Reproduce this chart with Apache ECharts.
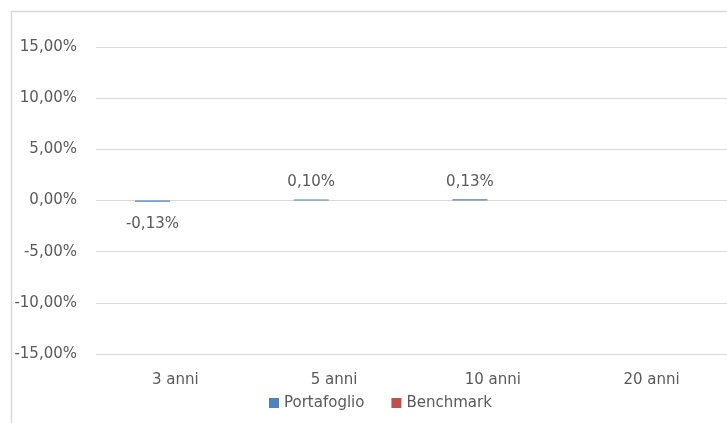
<!DOCTYPE html>
<html>
<head>
<meta charset="utf-8">
<script src="https://cdn.jsdelivr.net/npm/echarts@6/dist/echarts.min.js"></script>
<style>
html,body{margin:0;padding:0;background:#fff;}
#c{width:727px;height:423px;}
</style>
</head>
<body>
<div id="c"></div>
<script>
const categories = ['3 anni', '5 anni', '10 anni', '20 anni'];
const portafoglio = [-0.13, 0.10, 0.13, null];
const benchmark = [null, null, null, null];
const yMin = -15, yMax = 15, yStep = 5;

const fmt = v => v.toFixed(2).replace('.', ',') + '%';
const FONT = 'DejaVu Sans';
const TXT = '#595959';

function labelled(arr) {
  return arr.map(v => v === null ? null : {
    value: v,
    label: v < 0 ? { position: 'bottom', distance: 15 } : { position: 'top', distance: 10 }
  });
}

const chart = echarts.init(document.getElementById('c'), null, { renderer: 'canvas' });
chart.setOption({
  animation: false,
  backgroundColor: '#ffffff',
  graphic: [{
    type: 'rect', z: -10, silent: true,
    shape: { x: 11.5, y: 11.5, width: 800, height: 500 },
    style: { fill: 'none', stroke: '#d9d9d9', lineWidth: 1.5 }
  }],
  grid: { left: 96, top: 47, width: 635, height: 307, containLabel: false, outerBoundsMode: 'none' },
  legend: {
    left: 264, top: 390,
    icon: 'rect', itemWidth: 10, itemHeight: 10, itemGap: 27,
    textStyle: { fontFamily: FONT, fontSize: 15, color: TXT, lineHeight: 16 },
    data: ['Portafoglio', 'Benchmark']
  },
  xAxis: {
    type: 'category', data: categories,
    axisLine: { show: false }, axisTick: { show: false },
    axisLabel: { fontFamily: FONT, fontSize: 15, color: TXT, margin: 19 }
  },
  yAxis: {
    type: 'value', min: yMin, max: yMax, interval: yStep,
    axisLine: { show: false }, axisTick: { show: false },
    splitLine: { lineStyle: { color: '#d9d9d9', width: 1 } },
    axisLabel: { fontFamily: FONT, fontSize: 15, color: TXT, margin: 19, formatter: fmt }
  },
  series: [
    {
      name: 'Portafoglio', type: 'bar', data: labelled(portafoglio),
      barWidth: 35, barGap: '31%',
      itemStyle: { color: '#4F81BD' },
      label: { show: true, fontFamily: FONT, fontSize: 15, color: TXT,
               formatter: p => fmt(p.value) }
    },
    {
      name: 'Benchmark', type: 'bar', data: labelled(benchmark),
      barWidth: 35,
      itemStyle: { color: '#C0504D' },
      label: { show: true, fontFamily: FONT, fontSize: 15, color: TXT,
               formatter: p => fmt(p.value) }
    }
  ]
});
</script>
</body>
</html>
